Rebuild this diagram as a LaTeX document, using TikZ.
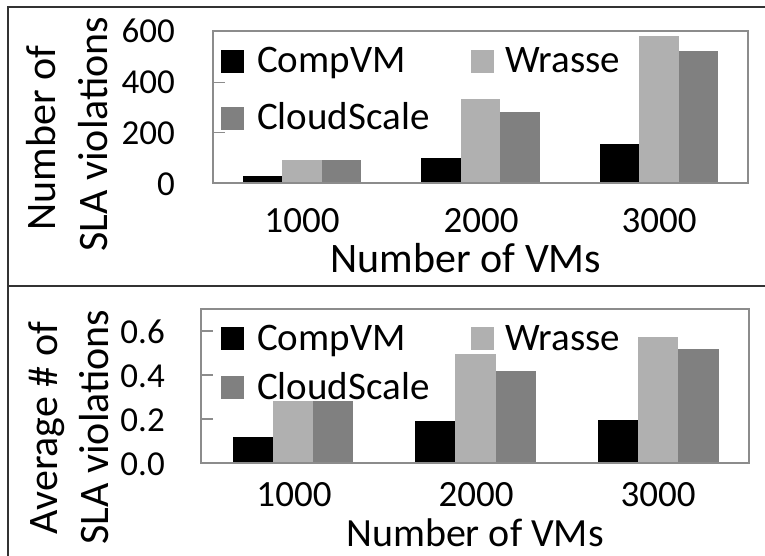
\documentclass[tikz,border=0pt]{standalone}
\usepackage{fontspec}
\setmainfont{Carlito}
\definecolor{compvm}{HTML}{000000}
\definecolor{wrasse}{HTML}{B0B0B0}
\definecolor{cloudscale}{HTML}{808080}
\definecolor{axisgray}{HTML}{8C8C8C}
\definecolor{framegray}{HTML}{333333}
\tikzset{
  frame/.style={draw=framegray, line width=1.6pt},
  plotbox/.style={draw=axisgray, line width=1.6pt},
  tickmark/.style={draw=axisgray, line width=1.2pt},
  ticklab/.style={inner sep=0pt, font=\fontsize{35}{40}\selectfont},
  catlab/.style={inner sep=0pt, font=\fontsize{37}{42}\selectfont},
  axtitle/.style={inner sep=0pt, font=\fontsize{42}{48}\selectfont},
  legtext/.style={inner sep=0pt, anchor=base west, font=\fontsize{39}{44}\selectfont},
}
\begin{document}
\begin{tikzpicture}[x=1pt, y=-1pt]
\useasboundingbox (0,0) rectangle (765,556);
\fill[white] (0,0) rectangle (765,556);

% outer frame and divider
\draw[frame] (765,7) -- (8,7) -- (8,556);
\draw[frame] (8,286) -- (765,286);

% ---------- upper chart: number of SLA violations ----------
\foreach \i/\va/\vb/\vc in {0/29/91/91, 1/100/332/279, 2/154/580/521}{
  \pgfmathsetmacro\xs{213+\i*178.33+29.9}
  \fill[compvm] (\xs,183) rectangle ({\xs+39.5},{183-\va*0.2533});
  \fill[wrasse] ({\xs+39.5},183) rectangle ({\xs+79},{183-\vb*0.2533});
  \fill[cloudscale] ({\xs+79},183) rectangle ({\xs+118.5},{183-\vc*0.2533});
}
\draw[tickmark] (213,82.3) -- (225,82.3);
\draw[tickmark] (213,132.7) -- (225,132.7);
\draw[plotbox] (213,31) rectangle (748,183);

\node[ticklab, anchor=east] (ua600) at (175,31) {600};
\node[ticklab, anchor=east] (ua400) at (175,82) {400};
\node[ticklab, anchor=east] (ua200) at (175,133) {200};
\node[ticklab, anchor=east] (ua0) at (175,184) {0};

\node[catlab] (uc1) at (302,221) {1000};
\node[catlab] (uc2) at (481,221) {2000};
\node[catlab] (uc3) at (659,221) {3000};

\node[axtitle, anchor=base] (uxt) at (466,272) {Number of VMs};
\node[axtitle, anchor=base, rotate=90] (uyt1) at (55,138) {Number of};
\node[axtitle, anchor=base, rotate=90] (uyt2) at (107,134) {SLA violations};

\fill[compvm] (221,50) rectangle (244,73);
\node[legtext] (ul1) at (257,73) {CompVM};
\fill[wrasse] (471,50) rectangle (494,73);
\node[legtext] (ul2) at (505,73) {Wrasse};
\fill[cloudscale] (221,107) rectangle (244,130);
\node[legtext] (ul3) at (257,130) {CloudScale};

% ---------- lower chart: average number of SLA violations ----------
\foreach \i/\va/\vb/\vc in {0/0.118/0.282/0.282, 1/0.19/0.495/0.42, 2/0.195/0.573/0.518}{
  \pgfmathsetmacro\xs{201+\i*182.67+31.5}
  \fill[compvm] (\xs,463) rectangle ({\xs+40.3},{463-\va*220});
  \fill[wrasse] ({\xs+40.3},463) rectangle ({\xs+80.6},{463-\vb*220});
  \fill[cloudscale] ({\xs+80.6},463) rectangle ({\xs+120.9},{463-\vc*220});
}
\draw[tickmark] (201,331) -- (213,331);
\draw[tickmark] (201,375) -- (213,375);
\draw[tickmark] (201,419) -- (213,419);
\draw[plotbox] (201,309) rectangle (749,463);

\node[ticklab, anchor=east] (la6) at (165,332) {0.6};
\node[ticklab, anchor=east] (la4) at (165,376) {0.4};
\node[ticklab, anchor=east] (la2) at (165,420) {0.2};
\node[ticklab, anchor=east] (la0) at (165,464) {0.0};

\node[catlab] (lc1) at (294,495) {1000};
\node[catlab] (lc2) at (476,495) {2000};
\node[catlab] (lc3) at (658,495) {3000};

\node[axtitle, anchor=base, font=\fontsize{40}{46}\selectfont] (lxt) at (475,546) {Number of VMs};
\node[axtitle, anchor=base, rotate=90] (lyt1) at (57,428) {Average \# of};
\node[axtitle, anchor=base, rotate=90] (lyt2) at (108,427) {SLA violations};

\fill[compvm] (221,327) rectangle (244,350);
\node[legtext] (ll1) at (257,350) {CompVM};
\fill[wrasse] (471,327) rectangle (494,350);
\node[legtext] (ll2) at (505,350) {Wrasse};
\fill[cloudscale] (221,376) rectangle (244,399);
\node[legtext] (ll3) at (257,399) {CloudScale};
\end{tikzpicture}
\end{document}
